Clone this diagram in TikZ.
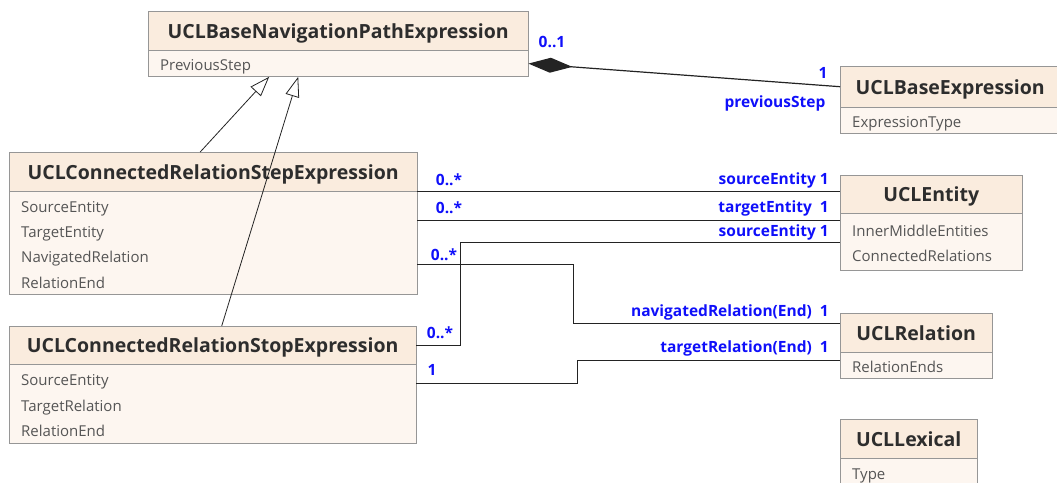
\documentclass[tikz,border=0pt]{standalone}
\usepackage{fontspec}
\setmainfont{Open Sans}
\usetikzlibrary{arrows.meta}
\usetikzlibrary{positioning}
\definecolor{headfill}{RGB}{250,236,222}
\definecolor{bodyfill}{RGB}{253,246,240}
\definecolor{boxline}{RGB}{150,150,150}
\definecolor{titletext}{RGB}{45,45,45}
\definecolor{attrtext}{RGB}{85,85,85}
\definecolor{roleblue}{RGB}{15,15,250}
\definecolor{linegray}{RGB}{35,35,35}
\tikzset{clshead/.style = {draw=boxline, fill=headfill, text=titletext, anchor=north west,
                           inner sep=0, text height=15pt, text depth=0pt,
                           font=\bfseries\fontsize{19.5}{22}\selectfont}}
\tikzset{clsbody/.style = {draw=boxline, fill=bodyfill, text=attrtext, anchor=north west, align=left,
                           inner xsep=12pt, inner ysep=0, text height=14pt,
                           font=\fontsize{15}{25.3}\selectfont}}
\tikzset{role/.style = {text=roleblue, inner sep=0, font=\bfseries\fontsize{15.5}{17}\selectfont}}
\tikzset{assoc/.style = {draw=linegray, line width=1.2pt}}
\tikzset{inherit/.style = {draw=linegray, line width=0.8pt,
                           -{Triangle[length=20pt, width=14pt, fill=white]}}}

\begin{document}
\begin{tikzpicture}[x=1pt, y=-1pt]
    \useasboundingbox (0, 0) rectangle (1057, 482);
    \clip (0, 0) rectangle (1057, 482);
    % classes
    \node [clshead, minimum width=380pt, minimum height=39pt] (navpath) at (148, 11) {UCLBaseNavigationPathExpression};
    \node [clsbody, text width=356pt, minimum height=26pt, text depth=0pt] (navpath-a) at (navpath.south west) {PreviousStep};
    \node [clshead, minimum width=220pt, minimum height=41pt] (baseexpr) at (840, 66) {UCLBaseExpression};
    \node [clsbody, text width=196pt, minimum height=26pt, text depth=0pt] (baseexpr-a) at (baseexpr.south west) {ExpressionType};
    \node [clshead, minimum width=408pt, minimum height=39pt] (stepexpr) at (9, 152) {UCLConnectedRelationStepExpression};
    \node [clsbody, text width=384pt, minimum height=103pt, text depth=75.9pt] (stepexpr-a) at (stepexpr.south west)
        {SourceEntity\\TargetEntity\\NavigatedRelation\\RelationEnd};
    \node [clshead, minimum width=407pt, minimum height=38pt] (stopexpr) at (9, 326) {UCLConnectedRelationStopExpression};
    \node [clsbody, text width=383pt, minimum height=79pt, text depth=50.6pt] (stopexpr-a) at (stopexpr.south west)
        {SourceEntity\\TargetRelation\\RelationEnd};
    \node [clshead, minimum width=182pt, minimum height=38pt] (entity) at (840, 175) {UCLEntity};
    \node [clsbody, text width=158pt, minimum height=57pt, text depth=25.3pt] (entity-a) at (entity.south west)
        {InnerMiddleEntities\\ConnectedRelations};
    \node [clshead, minimum width=152pt, minimum height=39pt] (relation) at (840, 313) {UCLRelation};
    \node [clsbody, text width=128pt, minimum height=26pt, text depth=0pt] (relation-a) at (relation.south west) {RelationEnds};
    \node [clshead, minimum width=137pt, minimum height=39pt] (lexical) at (840, 419) {UCLLexical};
    \node [clsbody, text width=113pt, minimum height=28pt, text depth=0pt] (lexical-a) at (lexical.south west) {Type};

    % composition
    \draw [assoc, {Diamond[length=44pt, width=15pt]}-] (navpath-a.east) -- (baseexpr.west);
    \node [role] (m-prev0) at (552, 42) {0..1};
    \node [role] (m-prev1) at (823, 73) {1};
    \node [role] (r-prev) at (775, 103) {previousStep};

    % associations
    \coordinate (tgtE) at ([yshift=-29pt]stepexpr-a.north east);
    \coordinate (navR) at ([yshift=-73pt]stepexpr-a.north east);
    \coordinate (tgtR) at ([yshift=-19pt]stopexpr-a.north east);
    \draw [assoc] (stepexpr.south east) -- (stepexpr.south east -| entity.west);
    \draw [assoc] (tgtE) -- (tgtE -| entity.west);
    \draw [assoc] (stopexpr.east) -- ++(44, 0) |- (entity-a.west);
    \draw [assoc] (navR) -- ++(156, 0) |- ([yshift=9pt]relation.west);
    \draw [assoc] (tgtR) -- ++(161, 0) |- ([yshift=5pt]relation-a.west);
    \node [role] (m-src0) at (449, 180) {0..*};
    \node [role] (m-tgt0) at (449, 208) {0..*};
    \node [role] (m-nav0) at (444, 255) {0..*};
    \node [role] (m-ssrc0) at (440, 333) {0..*};
    \node [role] (m-stgt0) at (432, 370) {1};
    \node [role, anchor=east] (r-src) at (829, 180) {sourceEntity 1};
    \node [role, anchor=east] (r-tgt) at (829, 208) {targetEntity~~1};
    \node [role, anchor=east] (r-ssrc) at (829, 232) {sourceEntity 1};
    \node [role, anchor=east] (r-nav) at (829, 312) {navigatedRelation(End)~~1};
    \node [role, anchor=east] (r-stgt) at (829, 348) {targetRelation(End)~~1};

    % generalizations
    \draw [inherit] ([xshift=-13pt]stepexpr.north) -- ([xshift=-69pt]navpath-a.south);
    \draw [inherit] ([xshift=9pt]stopexpr.north) -- ([xshift=-40pt]navpath-a.south);
  \end{tikzpicture}
\end{document}
